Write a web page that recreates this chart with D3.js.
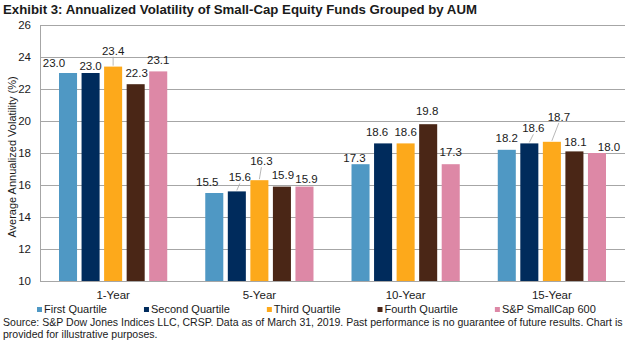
<!DOCTYPE html>
<html>
<head>
<meta charset="utf-8">
<script src="https://cdn.jsdelivr.net/npm/d3@7"></script>
<style>
  body { margin: 0; background: #fff; }
  text { font-family: "Liberation Sans", Arial, sans-serif; fill: #1a1a1a; }
</style>
</head>
<body>
<div id="chart"></div>
<script>
// volatility (%) by AUM quartile, per lookback period
var periods = ["1-Year", "5-Year", "10-Year", "15-Year"];
var series = ["First Quartile", "Second Quartile", "Third Quartile", "Fourth Quartile", "S&P SmallCap 600"];
var firstQuartile  = [23.0, 15.5, 17.3, 18.2];
var secondQuartile = [23.0, 15.6, 18.6, 18.6];
var thirdQuartile  = [23.4, 16.3, 18.6, 18.7];
var fourthQuartile = [22.3, 15.9, 19.8, 18.1];
var smallCap600    = [23.1, 15.9, 17.3, 18.0];
var yTicks = [10, 12, 14, 16, 18, 20, 22, 24, 26];

var colors = ["#4f98c4", "#002b5c", "#fda91b", "#4a2616", "#dd88a6"];

// nudges for the data labels so they don't collide, [dx, dy] in px
var labelNudge = [
  [[-14, 1], [0, 4], [0, -5], [1, 0], [0, 0]],
  [[-7, 0], [3, -3], [2, -8], [1, -1], [2, 3]],
  [[-6, 5], [-6, 0], [0, 0], [-1, -2], [0, -1]],
  [[0, -1], [4, -4], [7, -14], [1, 2], [12, 5]]
];

var values = [firstQuartile, secondQuartile, thirdQuartile, fourthQuartile, smallCap600];

var width = 632, height = 349;
var plot = {left: 40, right: 625, top: 25, bottom: 281};

var svg = d3.select("#chart").append("svg")
  .attr("width", width)
  .attr("height", height);

var y = d3.scaleLinear().domain([10, 26]).range([plot.bottom, plot.top]);

var x0 = d3.scaleBand()
  .domain(periods)
  .range([plot.left, plot.right])
  .paddingInner(0.26)
  .paddingOuter(0.13);

var x1 = d3.scaleBand()
  .domain(series)
  .range([0, x0.bandwidth()])
  .paddingInner(0.2);

// shrink/grow a text's font so it spans the given width
function fitWidth(sel, target, baseSize) {
  var w = sel.node().getComputedTextLength();
  sel.style("font-size", (baseSize * target / w).toFixed(2) + "px");
}

// title
var title = svg.append("text")
  .attr("x", 3)
  .attr("y", 14)
  .style("font-family", "'Liberation Sans Narrow', 'Arial Narrow', 'Liberation Sans', sans-serif")
  .style("font-weight", "bold")
  .style("font-size", "14px")
  .text("Exhibit 3: Annualized Volatility of Small-Cap Equity Funds Grouped by AUM");
fitWidth(title, 474, 14);

// gridlines
svg.append("g")
  .selectAll("line")
  .data(yTicks)
  .enter()
  .append("line")
  .attr("x1", plot.left)
  .attr("x2", plot.right)
  .attr("y1", function(d){ return Math.round(y(d)) + 0.5; })
  .attr("y2", function(d){ return Math.round(y(d)) + 0.5; })
  .style("stroke", "#a6a6a6")
  .style("stroke-width", 1);

svg.append("line")
  .attr("x1", plot.left + 0.5)
  .attr("x2", plot.left + 0.5)
  .attr("y1", plot.top)
  .attr("y2", plot.bottom + 0.5)
  .style("stroke", "#a6a6a6");

// y tick labels
svg.append("g")
  .selectAll("text")
  .data(yTicks)
  .enter()
  .append("text")
  .attr("x", 31)
  .attr("y", function(d){ return y(d) + 4; })
  .style("text-anchor", "end")
  .style("font-size", "11.5px")
  .text(function(d){ return d; });

// y axis title
svg.append("text")
  .attr("transform", "translate(16," + ((plot.top + plot.bottom) / 2 + 4) + ") rotate(-90)")
  .style("text-anchor", "middle")
  .style("font-size", "11px")
  .text("Average Annualized Volatility (%)");

// bars
var cells = [];
periods.forEach(function(p, i){
  series.forEach(function(s, j){
    cells.push({period: p, series: s, pi: i, si: j, value: values[j][i]});
  });
});

svg.append("g")
  .selectAll("rect")
  .data(cells)
  .enter()
  .append("rect")
  .attr("x", function(d){ return x0(d.period) + x1(d.series); })
  .attr("y", function(d){ return y(d.value); })
  .attr("width", x1.bandwidth())
  .attr("height", function(d){ return y(10) - y(d.value); })
  .style("fill", function(d){ return colors[d.si]; });

// data labels, with leader lines where the label was pushed up
cells.forEach(function(d){
  var nudge = labelNudge[d.pi][d.si];
  var cx = x0(d.period) + x1(d.series) + x1.bandwidth() / 2;
  d.lx = cx + nudge[0];
  d.ly = y(d.value) - 7 + nudge[1];
  d.cx = cx;
  d.leader = nudge[1] <= -3;
});

svg.append("g")
  .selectAll("line")
  .data(cells.filter(function(d){ return d.leader; }))
  .enter()
  .append("line")
  .attr("x1", function(d){ return d.lx; })
  .attr("y1", function(d){ return d.ly + 2; })
  .attr("x2", function(d){ return d.cx; })
  .attr("y2", function(d){ return y(d.value) - 1; })
  .style("stroke", "#a6a6a6")
  .style("stroke-width", 0.8);

svg.append("g")
  .selectAll("text")
  .data(cells)
  .enter()
  .append("text")
  .attr("x", function(d){ return d.lx; })
  .attr("y", function(d){ return d.ly; })
  .style("text-anchor", "middle")
  .style("font-size", "11.5px")
  .text(function(d){ return d.value.toFixed(1); });

// category labels
svg.append("g")
  .selectAll("text")
  .data(periods)
  .enter()
  .append("text")
  .attr("x", function(p){ return x0(p) + x0.bandwidth() / 2; })
  .attr("y", 299)
  .style("text-anchor", "middle")
  .style("font-size", "11.5px")
  .text(function(p){ return p; });

// legend
var legend = svg.append("g").attr("transform", "translate(37,0)");
var lx = 0;
series.forEach(function(s, i){
  legend.append("rect")
    .attr("x", lx)
    .attr("y", 307)
    .attr("width", 5)
    .attr("height", 5)
    .style("fill", colors[i]);
  var t = legend.append("text")
    .attr("x", lx + 7)
    .attr("y", 313)
    .style("font-size", "11px")
    .text(s);
  lx += 7 + t.node().getComputedTextLength() + 37;
});

// source note
var src = svg.append("text")
  .attr("x", 3)
  .attr("y", 326)
  .style("font-size", "11px")
  .text("Source: S&P Dow Jones Indices LLC, CRSP. Data as of March 31, 2019. Past performance is no guarantee of future results. Chart is");
fitWidth(src, 620, 11);

svg.append("text")
  .attr("x", 3)
  .attr("y", 338)
  .style("font-size", src.style("font-size"))
  .text("provided for illustrative purposes.");
</script>
</body>
</html>
